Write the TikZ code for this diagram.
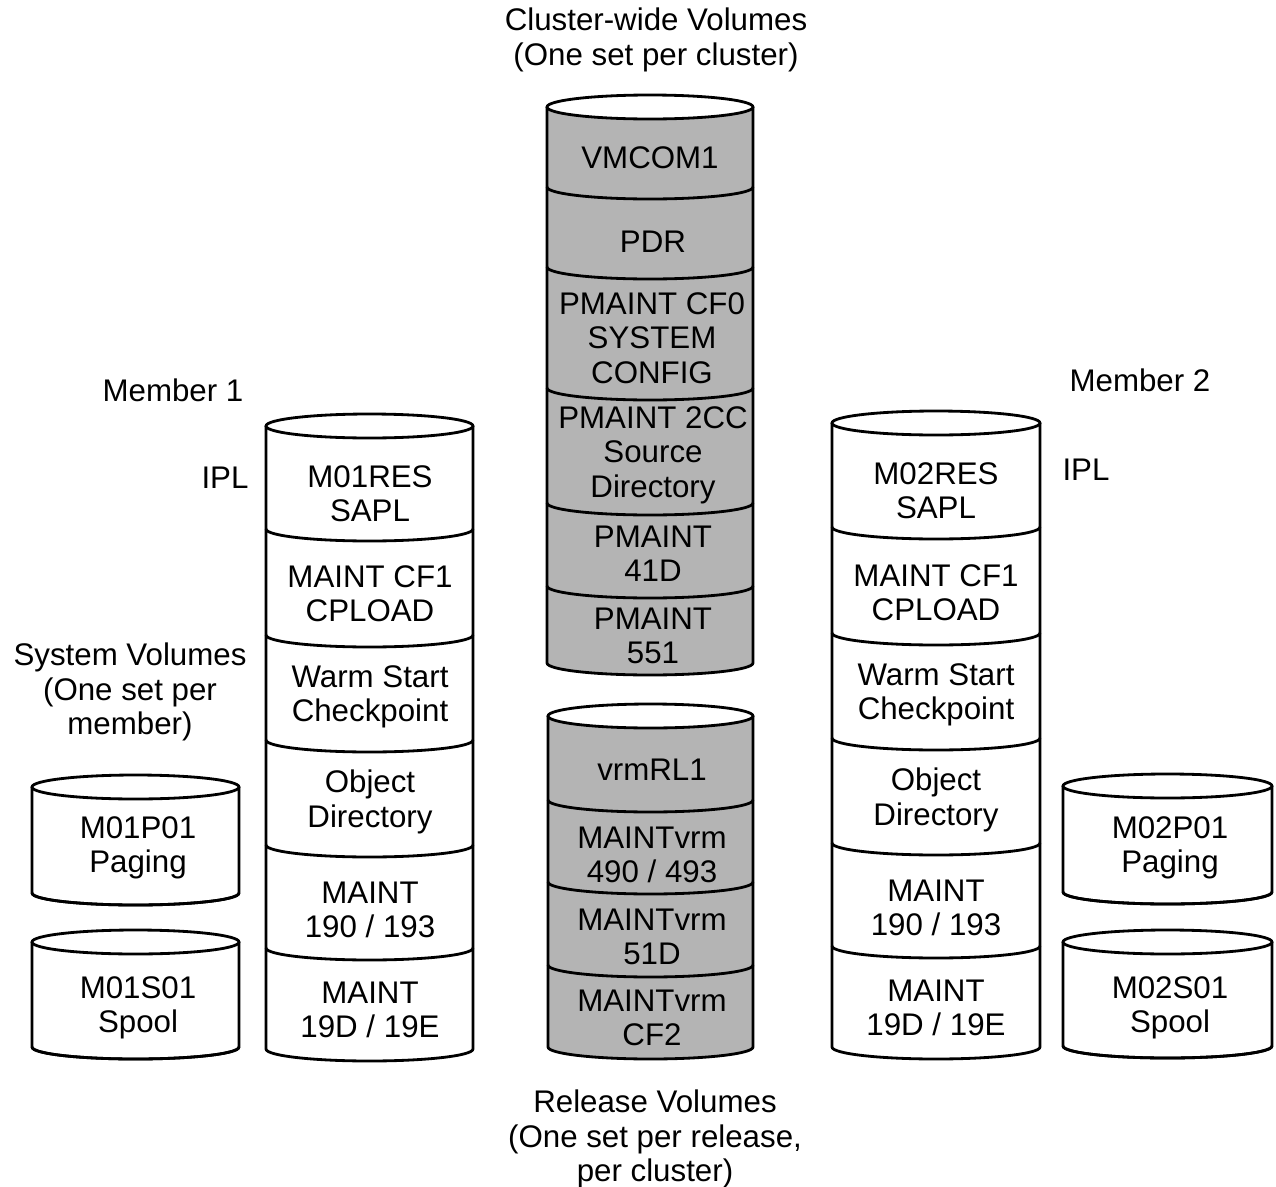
\documentclass[tikz,border=0pt]{standalone}
\usepackage{fontspec}
\setmainfont{Liberation Sans}
\usetikzlibrary{positioning}
\definecolor{volgray}{RGB}{180,180,180}
\newcommand{\volstack}[6]{%
  \pgfmathsetmacro\rx{(#2-#1)/2}
  \filldraw[fill=#3] (#2,#4) -- (#2,#6) arc[start angle=0,end angle=-180,x radius=\rx,y radius=12] -- (#1,#4);
  \foreach \b in {#5} {\draw (#1,\b) arc[start angle=180,end angle=360,x radius=\rx,y radius=12];}
  \filldraw[fill=white] ({(#1+#2)/2},#4) ellipse[x radius=\rx,y radius=12];
}

\begin{document}
\begin{tikzpicture}[
  x=0.02cm, y=0.02cm,
  line width=1.6pt,
  font=\fontsize{17.8}{19.6}\selectfont,
  lbl/.style={align=center,inner sep=0pt},
  caption/.style={align=center,inner sep=0pt}]
\useasboundingbox (0,0) rectangle (1276,-1187);
\volstack{547}{753}{volgray}{-107}{-187,-267,-388,-503,-586}{-663}
\volstack{548}{753}{volgray}{-716}{-800,-882,-965}{-1047}
\volstack{266}{473}{white}{-426}{-529,-635,-740,-845,-948}{-1049}
\volstack{832}{1040}{white}{-423}{-527,-633,-738,-843,-946}{-1047}
\volstack{32}{239}{white}{-787}{-893}{-893}
\volstack{32}{239}{white}{-942}{-1047}{-1047}
\volstack{1063}{1272}{white}{-786}{-892}{-892}
\volstack{1063}{1272}{white}{-942}{-1046}{-1046}

\node[caption] (cluster) at (656,-40) {Cluster-wide Volumes\\(One set per cluster)};
\node[caption] (member1) at (173,-390) {Member 1};
\node[caption] (member2) at (1140,-380) {Member 2};
\node[caption] (ipla) at (225,-478) {IPL};
\node[caption] (iplb) at (1086,-470) {IPL};
\node[caption] (sysvol) at (130,-692) {System Volumes\\(One set per\\member)};
\node[caption] (relvol) at (655,-1139) {Release Volumes\\(One set per release,\\per cluster)};

\node[lbl] (vmcom) at (650,-158) {VMCOM1};
\node[lbl] (pdr) at (653,-242) {PDR};
\node[lbl] (cfzero) at (652,-338) {PMAINT CF0\\SYSTEM\\CONFIG};
\node[lbl] (srcdir) at (653,-455) {PMAINT 2CC\\Source\\Directory};
\node[lbl] (pmaintd) at (653,-554) {PMAINT\\41D};
\node[lbl] (pmaintf) at (653,-636) {PMAINT\\551};

\node[lbl] (vrmres) at (652,-770) {vrmRL1};
\node[lbl] (vrma) at (652,-855) {MAINTvrm\\490 / 493};
\node[lbl] (vrmb) at (652,-937) {MAINTvrm\\51D};
\node[lbl] (vrmc) at (652,-1018) {MAINTvrm\\CF2};

\node[lbl] (resa) at (370,-494) {M01RES\\SAPL};
\node[lbl] (cpla) at (370,-594) {MAINT CF1\\CPLOAD};
\node[lbl] (warma) at (370,-697) {Warm Start\\Checkpoint};
\node[lbl] (obja) at (370,-802) {Object\\Directory};
\node[lbl] (mnta) at (370,-910) {MAINT\\190 / 193};
\node[lbl] (mntda) at (370,-1010) {MAINT\\19D / 19E};

\node[lbl] (resb) at (936,-491) {M02RES\\SAPL};
\node[lbl] (cplb) at (936,-593) {MAINT CF1\\CPLOAD};
\node[lbl] (warmb) at (936,-695) {Warm Start\\Checkpoint};
\node[lbl] (objb) at (936,-800) {Object\\Directory};
\node[lbl] (mntb) at (936,-908) {MAINT\\190 / 193};
\node[lbl] (mntdb) at (936,-1008) {MAINT\\19D / 19E};

\node[lbl] (pagea) at (138,-848) {M01P01\\Paging};
\node[lbl] (spoola) at (138,-1008) {M01S01\\Spool};
\node[lbl] (pageb) at (1170,-848) {M02P01\\Paging};
\node[lbl] (spoolb) at (1170,-1008) {M02S01\\Spool};
\end{tikzpicture}
\end{document}
